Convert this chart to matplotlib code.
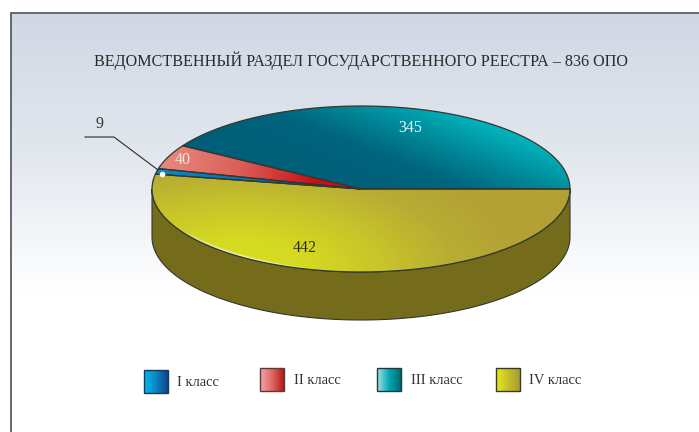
import numpy as np
import matplotlib
matplotlib.use("Agg")
import matplotlib.pyplot as plt
from matplotlib.collections import LineCollection
from matplotlib.colors import LinearSegmentedColormap
from matplotlib.patches import PathPatch, Rectangle
from matplotlib.path import Path

title = "ВЕДОМСТВЕННЫЙ РАЗДЕЛ ГОСУДАРСТВЕННОГО РЕЕСТРА – 836 ОПО"
categories = ["I класс", "II класс", "III класс", "IV класс"]
values = [9, 40, 345, 442]

plt.rcParams['font.family'] = ['Liberation Serif', 'DejaVu Serif']
W, H = 699, 432
fig = plt.figure(figsize=(W / 100, H / 100), dpi=100)
ax = fig.add_axes([0, 0, 1, 1])
ax.set_xlim(0, W)
ax.set_ylim(H, 0)
ax.axis('off')

CX, CY, RX, RY, DEPTH = 361, 189, 209, 83, 48
EDGE = '#33372f'


def linear(p0, p1):
    d = np.array(p1, float) - np.array(p0, float)
    return lambda xx, yy: ((xx - p0[0]) * d[0] + (yy - p0[1]) * d[1]) / (d @ d)


def radial(c, sx, rmax):
    return lambda xx, yy: np.hypot((xx - c[0]) / sx, yy - c[1]) / rmax


def grad_fill(path, tfunc, colors, zorder):
    bb = path.get_extents()
    x0, x1, y0, y1 = bb.x0 - 2, bb.x1 + 2, bb.y0 - 2, bb.y1 + 2
    nx, ny = max(int(x1 - x0), 2) * 2, max(int(y1 - y0), 2) * 2
    xx, yy = np.meshgrid(np.linspace(x0, x1, nx), np.linspace(y0, y1, ny))
    cmap = LinearSegmentedColormap.from_list('g', colors)
    im = ax.imshow(np.clip(tfunc(xx, yy), 0, 1), extent=(x0, x1, y1, y0), cmap=cmap, vmin=0, vmax=1,
                   aspect='auto', zorder=zorder, interpolation='bilinear')
    patch = PathPatch(path, transform=ax.transData, fc='none', ec='none')
    ax.add_patch(patch)
    im.set_clip_path(patch)
    ax.set_xlim(0, W)
    ax.set_ylim(H, 0)


def ell(deg, k=1.0):
    a = np.radians(deg)
    return np.column_stack([CX + k * RX * np.cos(a), CY - k * RY * np.sin(a)])


# panel background
bg = Path([(11, 13), (W, 13), (W, H), (11, H), (11, 13)])
grad_fill(bg, linear((0, 13), (0, 292)), ['#d0d8e4', '#e2e7ee', '#ffffff'], 0)
ax.plot([11, 11, W], [H, 13, 13], color='#5a5e62', lw=1.3, zorder=1, solid_joinstyle='miter')

# rim of the disc
arc = ell(np.linspace(180, 360, 200))
side = np.vstack([arc, arc[::-1] + [0, DEPTH], arc[:1]])
ax.add_patch(PathPatch(Path(side), fc='#756c1b', ec=EDGE, lw=0.8, zorder=3))

# slices: clockwise from the right-hand end, IV first, derived from the values
total = sum(values)
styles = {
    3: (radial((240, 270), 2.2, 130), ['#d8e01e', '#d4d822', '#c8c42a', '#b8ad33', '#b3a135']),
    0: (linear((155, 172), (350, 190)), ['#0a86c8', '#0a70b0', '#123f80']),
    1: (linear((165, 150), (315, 182)), ['#e68a80', '#dc5f58', '#c81018']),
    2: (linear((340, 175), (378, 80)), ['#005f78', '#00657e', '#008a9a', '#00b4bc']),
}
ang = 0.0
for i in [3, 0, 1, 2]:
    sweep = values[i] / total * 360
    a = np.linspace(ang, ang - sweep, 240)
    p = Path(np.vstack([[[CX, CY]], ell(a), [[CX, CY]]]))
    tfunc, cols = styles[i]
    grad_fill(p, tfunc, cols, 4)
    ax.add_patch(PathPatch(p, fc='none', ec=EDGE, lw=0.9, zorder=5, joinstyle='round'))
    ang -= sweep

# pale sheen along the lower-left edge of the top face
sheen_deg = np.linspace(208, 256, 60)
for k, peak in [(0.994, 0.75), (0.986, 0.4), (0.978, 0.15)]:
    pts = ell(sheen_deg, k)
    segs = np.stack([pts[:-1], pts[1:]], axis=1)
    alpha = peak * np.sin(np.linspace(0, np.pi, len(segs)))
    rgba = np.column_stack([np.ones((len(segs), 3)), alpha])
    ax.add_collection(LineCollection(segs, colors=rgba, linewidths=1.1, zorder=4.5))

# value labels
ax.text(410, 128, str(values[2]), color='#eef6f6', fontsize=11.5, ha='center', va='center', zorder=6)
ax.text(183, 160, str(values[1]), color='#f7e4e0', fontsize=11.5, ha='center', va='center', zorder=6)
ax.text(305, 248, str(values[3]), color='#2b2b20', fontsize=11.5, ha='center', va='center', zorder=6)
ax.text(100, 124, str(values[0]), color='#333333', fontsize=11.5, ha='center', va='center', zorder=6)

# leader to the smallest slice
ax.plot([85, 114, 158], [137, 137, 170], color='#2a2a2a', lw=0.8, zorder=6)
ax.plot([162], [173.5], 'o', color='white', ms=3, zorder=7)

# title
ax.text(361, 61, title, color='#2a2a2a', fontsize=11.6, ha='center', va='center', zorder=6)

# legend
swatch_x = [144, 260, 377, 496]
swatch_y = [370, 368, 368, 368]
text_x = [177, 294, 411, 529]
text_y = [382, 380, 380, 380]
swatch_cols = [['#00b8ec', '#0a86c4', '#14408a'],
               ['#f4a4ac', '#dc6a64', '#b81818'],
               ['#a8e0e8', '#00aab4', '#006a72'],
               ['#e6e81c', '#c8c028', '#a89c30']]
swatch_edges = ['#123a5a', '#5a3a3a', '#203a3a', '#3a3a20']
for i, c in enumerate(categories):
    x, y = swatch_x[i], swatch_y[i]
    r = Path([(x, y), (x + 24, y), (x + 24, y + 23), (x, y + 23), (x, y)])
    grad_fill(r, linear((x, 0), (x + 24, 0)), swatch_cols[i], 4)
    ax.add_patch(Rectangle((x, y), 24, 23, fc='none', ec=swatch_edges[i], lw=1.0, zorder=5))
    ax.text(text_x[i], text_y[i], c, color='#333333', fontsize=10.5, ha='left', va='center', zorder=6)

fig.savefig('out.png', dpi=100)
